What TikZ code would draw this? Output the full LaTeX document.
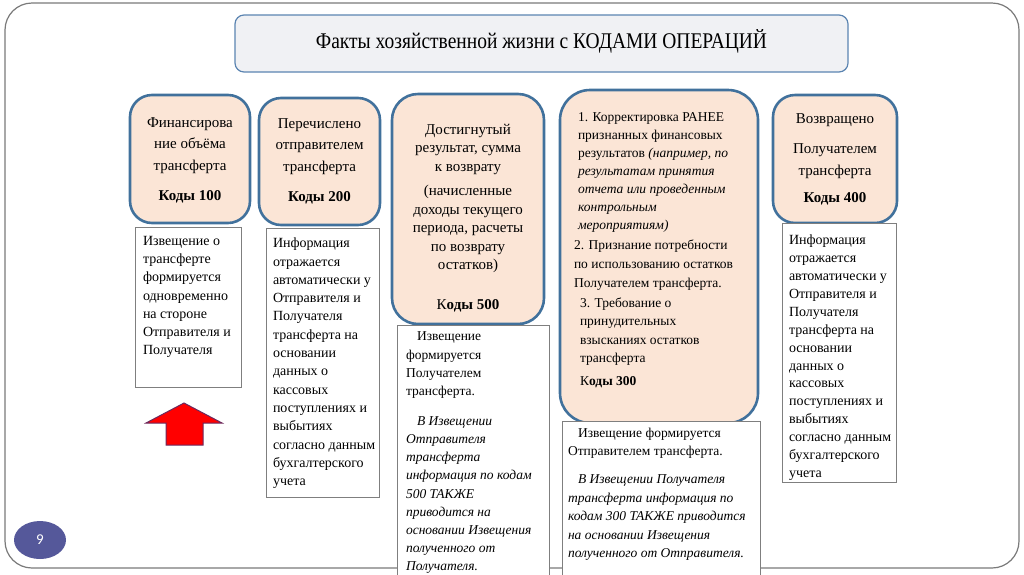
\documentclass[tikz,border=0pt]{standalone}
\usepackage{fontspec}
\setmainfont{Liberation Serif}
\newfontfamily\titlefont{Liberation Serif}[FakeStretch=0.87]
\newfontfamily\numfont{Carlito}
\usetikzlibrary{shapes.geometric}

\definecolor{codefill}{HTML}{FBE5D6}
\definecolor{codeblue}{HTML}{41719C}
\definecolor{titlefill}{HTML}{F0F1F4}
\definecolor{titleblue}{HTML}{5B84B1}
\definecolor{notegray}{HTML}{7F7F7F}
\definecolor{framegray}{HTML}{7A7A7A}
\definecolor{numblue}{HTML}{55589A}
\definecolor{arrowedge}{HTML}{6B2A5E}

\tikzset{
  codebox/.style={draw=codeblue, line width=2.6pt, fill=codefill, rounded corners=22pt},
  notebox/.style={draw=notegray, line width=0.9pt, fill=white},
  codetext/.style={font=\fontsize{15}{21.5}\selectfont, align=center, anchor=north},
  notetext/.style={font=\fontsize{14}{18.3}\selectfont, align=left, anchor=north west}
}

\begin{document}
\begin{tikzpicture}
  [x=1pt,y=-1pt,every node/.style={inner sep=0pt,outer sep=0pt}]

  \useasboundingbox (0,0) rectangle (1024,574);
  \clip (0,0) rectangle (1024,574);

  % Marco de la diapositiva
  \draw[framegray, line width=1.2pt, rounded corners=27pt] (5,3) rectangle (1019,568);

  % Titulo
  \node[draw=titleblue, line width=1.2pt, fill=titlefill, rounded corners=9pt,
        minimum width=613pt, minimum height=57pt] (titulo) at (541.5,43.5) {};
  \node[font=\titlefont\fontsize{22.4}{24}\selectfont] (titulotexto) at (541.5,41)
    {Факты хозяйственной жизни с КОДАМИ ОПЕРАЦИЙ};

  % Fila superior: cajas de codigos
  \node[codebox, minimum width=120pt, minimum height=128pt] (c100) at (190,159) {};
  \node[codebox, minimum width=121pt, minimum height=127pt] (c200) at (319.5,161.5) {};
  \node[codebox, rounded corners=26pt, minimum width=152pt, minimum height=230pt] (c500) at (468,209) {};
  \node[codebox, rounded corners=30pt, minimum width=198pt, minimum height=333pt] (c300) at (659,256.5) {};
  \node[codebox, minimum width=124pt, minimum height=128pt] (c400) at (835,159) {};

  \node[codetext] (t100) at (190,117.5) {Финансирова\\ние объёма\\трансферта\\[8.5pt]\textbf{Коды 100}};
  \node[codetext] (t200) at (319.5,118.5) {Перечислено\\отправителем\\трансферта\\[8.5pt]\textbf{Коды 200}};
  \node[codetext, font=\fontsize{15}{18.4}\selectfont] (t500) at (468,124)
    {Достигнутый\\результат, сумма\\к возврату\\[6.5pt](начисленные\\доходы текущего\\периода, расчеты\\по возврату\\остатков)\\[21.5pt]К\textbf{оды 500}};
  \node[codetext, font=\fontsize{15}{22}\selectfont] (t400) at (835,114)
    {Возвращено\\[8pt]Получателем\\трансферта\\[5pt]\textbf{Коды 400}};

  % Texto de la caja de codigos 300
  \node[notetext, font=\fontsize{13.5}{17.9}\selectfont] (p1) at (578,113)
    {1. Корректировка РАНЕЕ\\признанных финансовых\\результатов \textit{(например, по}\\\textit{результатам принятия}\\\textit{отчета или проведенным}\\\textit{контрольным}\\\textit{мероприятиям)}};
  \node[notetext, font=\fontsize{13.5}{19}\selectfont] (p2) at (574,240)
    {2. Признание потребности\\по использованию остатков\\Получателем трансферта.};
  \node[notetext, font=\fontsize{13.5}{18.3}\selectfont] (p3) at (580,298)
    {3. Требование о\\принудительных\\взысканиях остатков\\трансферта};
  \node[notetext, font=\fontsize{13.5}{18}\selectfont] (k300) at (580,377) {К\textbf{оды 300}};

  % Fila inferior: cajas de avisos
  \node[notebox, minimum width=106pt, minimum height=160pt] (n100) at (188,307) {};
  \node[notebox, minimum width=113pt, minimum height=269pt] (n200) at (322.5,362.5) {};
  \node[notebox, minimum width=152pt, minimum height=280pt] (n500) at (473,465) {};
  \node[notebox, minimum width=198pt, minimum height=180pt] (n300) at (661,511) {};
  \node[notebox, minimum width=114pt, minimum height=259pt] (n400) at (839,352.5) {};

  \node[notetext] (a100) at (143,236)
    {Извещение о\\трансферте\\формируется\\одновременно\\на стороне\\Отправителя и\\Получателя};
  \node[notetext] (a200) at (273,238)
    {Информация\\отражается\\автоматически у\\Отправителя и\\Получателя\\трансферта на\\основании\\данных о\\кассовых\\поступлениях и\\выбытиях\\согласно данным\\бухгалтерского\\учета};
  \node[notetext, font=\fontsize{13.5}{18.2}\selectfont] (a500) at (406,332)
    {\hspace*{11pt}Извещение\\формируется\\Получателем\\трансферта.\\[11.7pt]\hspace*{11pt}\textit{В Извещении}\\\textit{Отправителя}\\\textit{трансферта}\\\textit{информация по кодам}\\\textit{500 ТАКЖЕ}\\\textit{приводится на}\\\textit{основании Извещения}\\\textit{полученного от}\\\textit{Получателя.}};
  \node[notetext, font=\fontsize{13.5}{18.5}\selectfont] (a300) at (568,428)
    {\hspace*{10pt}Извещение формируется\\Отправителем трансферта.\\[9.5pt]\hspace*{10pt}\textit{В Извещении Получателя}\\\textit{трансферта информация по}\\\textit{кодам 300 ТАКЖЕ приводится}\\\textit{на основании Извещения}\\\textit{полученного от Отправителя.}};
  \node[notetext, font=\fontsize{14}{17.9}\selectfont] (a400) at (789,235)
    {Информация\\отражается\\автоматически у\\Отправителя и\\Получателя\\трансферта на\\основании\\данных о\\кассовых\\поступлениях и\\выбытиях\\согласно данным\\бухгалтерского\\учета};

  % Flecha roja
  \draw[fill=red, draw=arrowedge, line width=1pt]
    (184,403) -- (222,423) -- (203,423) -- (203,445) -- (166,445) -- (166,423) -- (146,423) -- cycle;

  % Numero de pagina
  \node[ellipse, fill=numblue, minimum width=52pt, minimum height=38pt, text=white,
        font=\numfont\fontsize{15}{15}\selectfont] (pagina) at (40,540) {9};

\end{tikzpicture}
\end{document}
